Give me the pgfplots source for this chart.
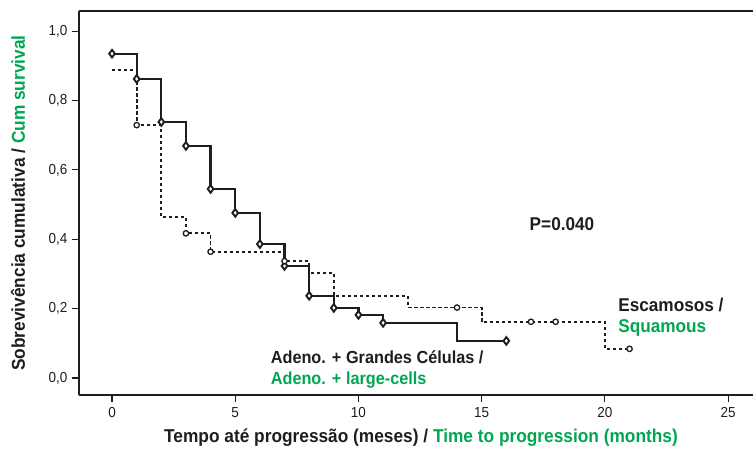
\documentclass[border=0pt]{standalone}
\usepackage{pgfplots}
\pgfplotsset{compat=1.18}
\usepackage{fontspec}
\setmainfont[FakeStretch=0.93]{Liberation Sans}
\definecolor{grn}{RGB}{0,166,81}
\definecolor{ink}{RGB}{30,30,30}
\begin{document}
\begin{tikzpicture}
\path[use as bounding box] (0,0) rectangle (753pt,453pt);
\begin{axis}[
  at={(79pt,58pt)}, anchor=south west,
  scale only axis, width=674pt, height=384pt,
  xmin=-1.34, xmax=26.01, ymin=-0.049, ymax=1.058,
  axis x line=box, axis y line=left,
  axis line style={-, line width=1.1pt, ink},
  xtick={0,5,10,15,20,25}, ytick={0,0.2,0.4,0.6,0.8,1.0},
  xtick pos=bottom, ytick pos=left,
  tick align=outside, major tick length=7pt,
  tick style={line width=1.1pt, ink},
  /pgf/number format/assume math mode=true,
  yticklabel style={xshift=-1pt, /pgf/number format/.cd, use comma, fixed, fixed zerofill, precision=1},
  ticklabel style={font=\fontsize{14.5}{16}\selectfont, text=ink},
  xticklabel style={yshift=-2pt},
  clip=false,
]
\addplot[const plot, ink, line width=2.2pt] coordinates {
 (0,0.935) (1,0.862) (2,0.738) (3,0.669) (4,0.545) (5,0.476) (6,0.386)
 (7,0.323) (8,0.237) (9,0.202) (10,0.182) (11,0.159) (14,0.107) (16,0.107)};
\addplot[const plot, ink, line width=1.8pt, dash pattern=on 3.2pt off 2.8pt] coordinates {
 (0,0.888) (1,0.729) (2,0.463) (3,0.417) (4,0.364) (7,0.337) (8,0.303)
 (9,0.236) (12,0.203) (15,0.162) (20,0.084) (21,0.084)};
\addplot[only marks, mark=diamond*, mark size=3.8pt, mark options={fill=white, draw=ink, line width=1.9pt}] coordinates {
 (0,0.935) (1,0.862) (2,0.738) (3,0.669) (4,0.545) (5,0.476) (6,0.386)
 (7,0.323) (8,0.237) (9,0.202) (10,0.182) (11,0.159) (16,0.107)};
\addplot[only marks, mark=*, mark size=2.7pt, mark options={fill=white, draw=ink, line width=1.3pt}] coordinates {
 (1,0.729) (3,0.417) (4,0.364) (7,0.337) (14,0.203) (17,0.162) (18,0.162) (21,0.084)};
\node[font=\bfseries\fontsize{18.5}{20}\selectfont, text=ink] at (axis cs:18.26,0.444) {P=0.040};
\node[anchor=west, font=\bfseries\fontsize{18.5}{20}\selectfont, text=ink] at (axis cs:20.40,0.210) {Escamosos /};
\node[anchor=west, font=\bfseries\fontsize{18.5}{20}\selectfont, text=grn] at (axis cs:20.40,0.144) {Squamous};
\node[anchor=west, font=\bfseries\fontsize{17.5}{19}\selectfont, text=ink] at (axis cs:6.30,0.0605) {Adeno. + Grandes Células /};
\node[anchor=west, font=\bfseries\fontsize{17.5}{19}\selectfont, text=grn] at (axis cs:6.30,-0.006) {Adeno. + large-cells};
\end{axis}
\node[font=\bfseries\fontsize{18.6}{20}\selectfont, text=ink] at (421pt,15.5pt) {Tempo até progressão (meses) / \textcolor{grn}{Time to progression (months)}};
\node[rotate=90, font=\bfseries\fontsize{18.6}{20}\selectfont, text=ink] at (18pt,250pt) {Sobrevivência cumulativa / \textcolor{grn}{Cum survival}};
\end{tikzpicture}
\end{document}
